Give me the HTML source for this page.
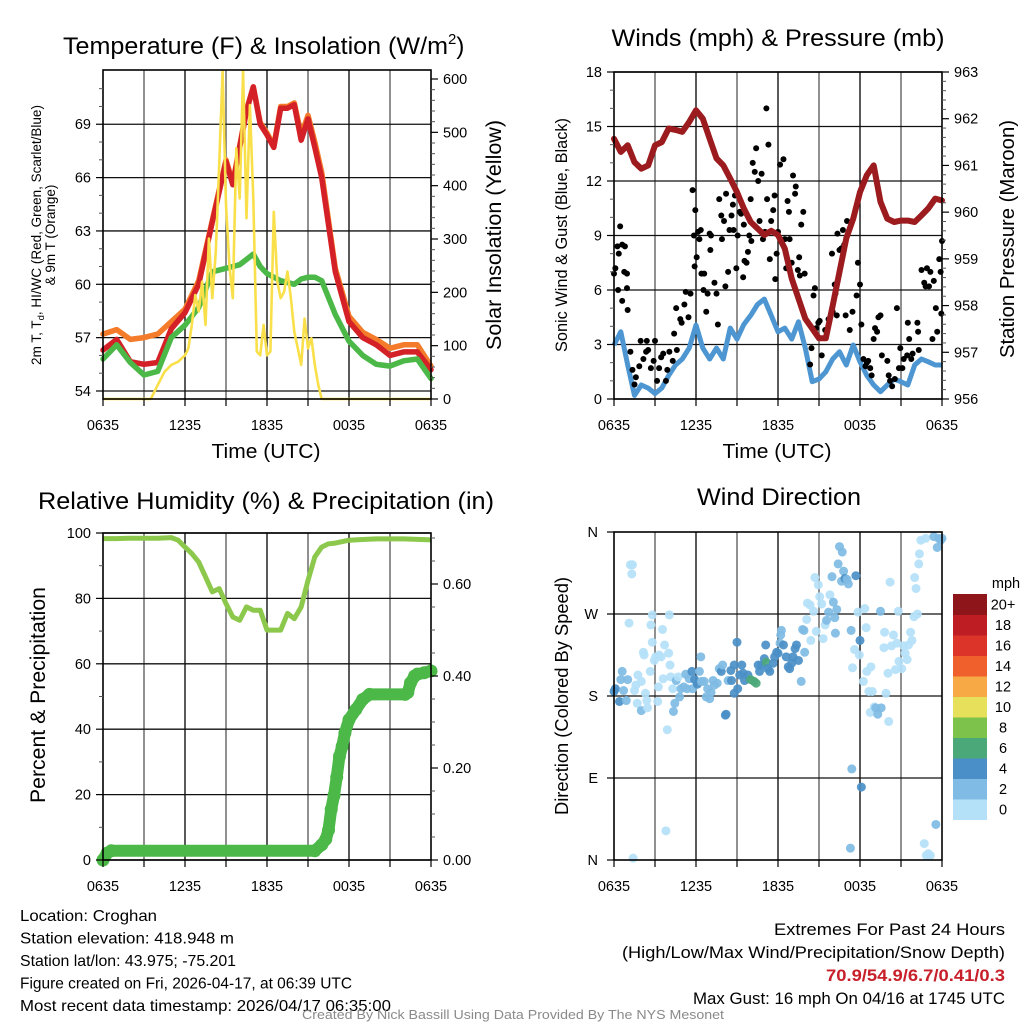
<!DOCTYPE html>
<html><head><meta charset="utf-8"><style>
html,body{margin:0;padding:0;background:#fff;}
svg{display:block;font-family:"Liberation Sans",Arial,sans-serif;}
</style></head><body>
<svg id="c" width="1024" height="1024" viewBox="0 0 1024 1024" xmlns="http://www.w3.org/2000/svg"></svg>
<script>
// ---- Temperature panel data ----
const tempHours=[0,1,2,3,4,5,6,7,8,9,9.5,10,10.5,11,11.5,12,12.5,13,13.5,14,14.5,15,15.5,16,17,18,19,20,21,22,23,24];
const temp2m=[56.3,56.9,55.65,55.5,55.6,57.5,58.4,60.0,63.5,66.9,65.6,67.7,69.75,71.1,69,68.4,67.7,69.9,69.9,70.1,68.1,69.3,67.7,66,60.7,57.9,57,56.6,56,56.2,56.2,55.2];
const temp9m=[57.2,57.45,56.9,57.0,57.2,57.9,58.6,60.2,63.6,67.0,65.7,67.8,69.8,71.1,69.1,68.5,67.8,70.0,70.0,70.2,68.4,69.5,68.0,66.3,60.9,58.2,57.3,56.9,56.4,56.6,56.6,55.4];
const dewpoint=[55.8,56.6,55.6,54.9,55.1,57,57.7,58.7,60.7,60.9,61.0,61.1,61.4,61.7,61.0,60.6,60.4,60.2,60.1,60.0,60.3,60.4,60.4,60.2,58.3,56.8,56,55.5,55.4,55.7,55.8,54.7];
const solarHours=[0,3.5,4,4.5,5,5.5,6,6.25,6.5,6.75,7,7.25,7.5,7.75,8,8.25,8.5,8.75,9,9.25,9.5,9.75,10,10.25,10.5,10.75,11,11.25,11.5,11.75,12,12.25,12.5,12.75,13,13.25,13.5,13.75,14,14.25,14.5,14.75,15,15.25,15.5,15.75,16,24];
const solar=[0,0,26,51,64,70,82,95,139,195,164,220,139,301,189,276,439,614,364,251,189,470,376,614,339,551,376,89,82,139,82,89,351,220,189,201,239,189,126,95,64,151,95,114,64,26,0,0];
const tempTicks=[54,57,60,63,66,69];
const solarTicks=[0,100,200,300,400,500,600];
const timeLabels=["0635","1235","1835","0035","0635"];
// ---- Wind panel data ----
const presHours=[0,0.5,1,1.5,2,2.5,3,3.5,4,4.5,5,5.5,6,6.5,7,7.5,8,8.5,9,9.5,10,10.5,11,11.5,12,12.5,13,13.5,14,14.5,15,15.5,16,16.5,17,17.5,18,18.5,19,19.5,20,20.5,21,21.5,22,22.5,23,23.5,24];
const pressure=[961.57,961.29,961.43,961.07,960.93,961.0,961.43,961.5,961.79,961.76,961.72,961.93,962.18,962.0,961.57,961.15,961.0,960.72,960.43,960.08,959.79,959.65,959.51,959.6,959.51,959.22,958.58,958.15,957.72,957.51,957.3,957.3,958.0,958.72,959.44,959.86,960.43,960.79,961.0,960.22,959.86,959.79,959.82,959.82,959.79,959.93,960.08,960.29,960.25];
const sonicWind=[2.97,3.7,1.87,0.2,0.77,0.6,0.3,0.6,1.3,1.87,2.2,2.8,4.07,2.8,2.2,2.8,2.2,3.9,3.3,4.1,4.6,5.2,5.5,4.6,3.7,3.9,3.3,4.25,2.8,0.95,1.1,1.5,2.2,2.6,1.87,2.97,2.05,1.3,0.77,0.4,0.77,1.1,0.95,0.77,1.87,2.2,2.05,1.87,1.87];
const gustHours=[0,0.1,0.25,0.45,0.6,0.35,0.8,0.75,0.95,0.3,0.6,1.0,0.95,1.2,1.35,1.6,1.5,1.85,1.95,2.15,2.35,2.4,2.5,2.7,2.9,3.0,3.15,3.3,3.45,3.6,3.8,3.9,4.05,4.3,4.4,4.6,4.55,4.85,4.95,5.15,5.25,5.45,5.6,5.75,5.95,5.85,5.9,6.05,6.15,6.25,6.35,6.4,6.6,6.75,6.55,6.85,7.0,7.05,7.1,7.35,7.5,7.6,7.7,7.85,7.9,8.05,8.15,8.2,8.35,8.45,8.6,8.7,8.75,8.85,8.95,9.05,9.2,9.3,9.45,9.5,9.55,9.7,9.8,9.9,10.05,10.0,10.15,10.3,10.4,10.55,10.65,10.8,10.9,11.05,11.15,11.2,11.3,11.4,11.5,11.65,11.75,11.8,11.9,12.0,12.15,12.4,12.5,12.6,12.7,12.8,12.85,13.0,13.1,13.25,13.3,13.45,13.55,13.6,13.7,13.85,13.95,14.35,14.45,14.6,14.7,14.8,14.95,15.05,15.2,15.45,15.7,15.95,16.0,16.15,16.2,16.3,16.35,16.5,16.65,16.75,16.85,16.95,17.05,17.25,17.45,17.75,17.85,18.0,18.1,18.25,18.4,18.5,18.6,18.75,18.85,19.0,19.1,19.25,19.35,19.5,19.6,20.0,20.1,20.2,20.35,20.55,20.7,20.85,20.95,21.1,21.2,21.45,21.5,21.6,21.75,21.85,22.2,22.3,22.25,22.5,22.7,22.8,22.9,23.05,23.15,23.3,23.4,23.55,23.65,23.8,23.9,23.95,24.0];
const gust=[6.9,7.2,8.4,9.5,8.5,8.0,8.4,7.0,6.9,6.0,5.4,4.9,6.1,2.6,1.6,1.2,0.8,1.8,3.2,2.2,2.6,3.2,2.7,1.7,2.1,3.2,1.0,1.7,2.3,2.5,1.0,1.6,2.6,2.1,3.6,2.7,5.0,4.4,4.2,5.2,5.9,4.5,5.8,11.5,10.4,9.0,7.3,7.8,9.2,8.8,9.3,6.9,6.9,4.8,6.0,5.8,9.1,8.2,9.0,6.4,5.8,4.1,11.0,10.1,8.8,9.8,6.2,11.3,7.0,9.3,10.1,10.7,9.3,11.2,7.2,9.0,10.3,10.2,6.7,9.6,7.6,7.5,8.1,9.0,8.7,11.0,13.0,12.5,13.8,12.0,9.8,12.4,8.8,9.2,16.0,11.0,14.0,7.7,9.8,10.4,11.2,6.6,8.0,9.2,12.9,13.2,8.8,7.2,10.9,10.3,8.8,7.5,12.3,11.3,11.7,7.1,7.8,6.8,9.6,10.3,6.9,1.9,2.8,5.7,6.1,3.9,4.2,4.3,2.4,3.8,4.4,8.0,4.8,6.3,5.8,4.6,9.1,8.2,8.3,9.3,8.5,4.6,9.8,3.8,4.8,5.7,7.5,6.3,4.1,2.2,1.8,2.0,2.1,1.7,1.3,3.3,3.9,3.7,4.5,4.6,2.4,2.1,1.3,1.0,0.7,1.1,5.0,1.7,2.8,1.7,2.2,2.4,4.2,3.3,2.2,2.5,4.2,2.7,3.7,7.1,6.4,6.2,7.2,6.2,7.0,3.3,6.5,5.0,3.7,7.7,7.0,4.7,8.7];
const windTicks=[0,3,6,9,12,15,18];
const presTicks=[956,957,958,959,960,961,962,963];
// ---- Humidity panel data ----
const rhHours=[0,1,2,3,4,5,5.5,6,6.5,7,7.5,8,8.5,9,9.5,10,10.5,11,11.5,12,12.5,13,13.5,14,14.5,15,15.5,16,16.5,17,18,19,20,22,24];
const rh=[98.3,98.3,98.4,98.4,98.4,98.6,97.8,95.7,93.7,91.1,86.6,82,83,78.4,74.3,73.3,77.4,76.4,76.4,70.3,70.3,70.3,75.4,73.8,77.4,85.5,92.7,95.7,96.7,96.9,97.8,98,98.2,98.2,97.9];
const precipHours=[0,0.3,0.6,15.5,16,16.3,16.5,16.7,16.9,17.1,17.3,17.5,17.7,18,18.5,19,19.5,22.1,22.3,22.5,22.8,23,23.5,24];
const precip=[0,0.015,0.02,0.02,0.033,0.045,0.065,0.11,0.14,0.18,0.225,0.247,0.276,0.305,0.327,0.349,0.36,0.36,0.364,0.385,0.4,0.404,0.407,0.411];
const rhTicks=[0,20,40,60,80,100];
const precipTicks=["0.00","0.20","0.40","0.60"];
// ---- Wind direction data ----
const dirHours=[0.0,0.1,0.4,0.6,0.5,0.9,0.7,1.0,1.2,1.35,1.3,1.1,1.5,1.6,1.7,1.75,2.0,2.0,2.15,2.2,2.3,2.4,2.45,2.65,2.7,2.8,2.8,2.95,3.05,3.2,3.25,3.3,3.45,3.55,3.6,3.7,3.8,3.9,4.0,4.05,4.1,4.15,4.3,4.35,4.45,4.55,4.7,4.8,4.9,5.1,5.25,5.35,5.5,5.7,5.75,5.9,6.1,6.25,6.35,6.4,6.6,6.75,6.85,7.0,7.1,7.25,7.35,7.55,7.7,7.85,7.95,8.15,8.2,8.35,8.55,8.6,8.8,8.8,9.0,9.05,9.2,9.35,9.45,9.55,9.8,10.0,10.25,10.4,10.55,10.65,10.8,11.0,11.1,11.15,11.25,11.4,11.65,11.75,11.9,12.0,12.15,12.25,12.2,12.4,12.6,12.75,12.85,13.0,13.1,13.25,13.35,13.5,13.7,13.8,13.9,13.95,14.1,14.15,14.35,14.4,14.6,14.7,14.8,14.95,15.05,15.2,15.3,15.45,15.55,15.7,15.8,15.95,16.05,16.15,16.2,16.3,16.4,16.5,16.65,16.7,16.8,16.9,17.05,17.15,17.35,17.45,17.6,17.7,17.85,17.95,18.0,18.1,18.25,18.35,18.45,18.5,18.65,18.75,18.8,18.9,19.05,19.15,19.3,19.5,19.55,19.75,19.8,19.9,20.05,20.1,20.2,20.3,20.45,20.6,20.7,20.8,20.85,21.05,21.2,21.3,21.45,21.55,21.7,21.8,21.95,22.0,22.1,22.2,22.3,22.35,22.45,22.7,22.8,22.85,23.0,23.15,23.4,23.55,23.65,23.75,23.9,24.0,1.4,17.3,17.4];
const dirDeg=[185,188,174,207,198,175,186,198,324,324,314,260,186,192,172,203,164,196,228,225,183,175,167,207,258,269,239,219,223,174,190,225,223,253,199,236,32,143,227,269,214,201,188,163,172,197,201,179,188,190,204,188,199,207,188,198,193,207,223,196,196,179,188,177,184,197,192,194,210,207,214,159,160,197,208,197,183,214,239,188,203,214,205,197,203,198,196,194,214,207,214,221,236,217,210,207,216,223,228,227,238,252,247,236,223,212,210,216,223,232,236,219,196,253,252,228,264,282,280,241,273,310,251,302,289,281,243,258,263,272,291,311,283,266,249,275,325,344,306,338,317,309,308,303,252,211,231,312,272,225,241,80,196,276,255,207,185,162,212,185,168,167,160,273,167,233,250,183,205,152,305,235,247,209,238,273,218,210,235,227,220,236,250,241,267,310,298,270,325,336,351,18,353,5,7,5,355,39,343,353,351,353,2,13,100];
const dirSpeed=[5,5,5,3,3,3,3,3,1,1,1,1,1,1,1,1,3,1,1,1,1,1,1,1,1,1,1,1,1,1,1,1,1,1,1,1,1,1,1,1,1,1,1,3,3,3,1,3,3,3,3,3,3,5,3,5,5,3,3,3,3,3,3,3,3,3,3,3,3,5,3,5,5,3,5,5,5,5,5,5,5,5,5,5,5,7,7,7,5,5,5,5,5,7,5,5,5,5,5,5,3,3,3,5,5,5,5,5,5,5,5,5,3,3,3,3,1,1,1,1,1,1,1,1,1,1,1,1,3,3,1,3,3,3,3,3,3,3,3,3,3,5,3,3,3,1,1,5,1,1,5,5,1,1,1,1,1,1,1,1,1,3,3,3,3,1,1,1,1,1,1,1,1,1,1,1,1,1,1,1,1,1,1,1,1,1,1,1,1,1,1,1,1,1,1,1,3,3,3,3,3,3,1,3,3,3,3,1,1,1];
const dirTicks=["N","E","S","W","N"];
const speedLevels=["0","2","4","6","8","10","12","14","16","18","20+"];
const speedColors=["#b4e1f8","#7fbbe4","#4a8fc7","#4ba878","#7dc24b","#e6e05a","#f6a945","#f0602c","#dc3428","#be1e23","#8e1519"];

const NS="http://www.w3.org/2000/svg";
const svg=document.getElementById('c');
function mk(tag,attrs,parent){const e=document.createElementNS(NS,tag);for(const k in attrs)e.setAttribute(k,attrs[k]);(parent||svg).appendChild(e);return e;}
function txt(s,x,y,size,anchor,parent,extra){const t=mk('text',Object.assign({x:x,y:y,'font-size':size,'text-anchor':anchor||'middle',fill:'#000'},extra||{}),parent);t.textContent=s;return t;}
function fit(t,len){t.setAttribute('textLength',len);t.setAttribute('lengthAdjust','spacingAndGlyphs');return t;}
function scale(d0,d1,r0,r1){return v=>r0+(v-d0)/(d1-d0)*(r1-r0);}
function pathOf(xs,ys,fx,fy){return xs.map((h,i)=>(i?'L':'M')+fx(h).toFixed(1)+','+fy(ys[i]).toFixed(1)).join('');}

function frame(g,x0,y0,x1,y1,hGrid,fy){
  for(let k=1;k<8;k++){const x=x0+k*(x1-x0)/8;const l=mk('line',{x1:x,y1:y0,x2:x,y2:y1,stroke:k%2?'#555':'#000','stroke-width':1.3},g);}
  hGrid.forEach(v=>{const y=fy(v);const l=mk('line',{x1:x0,y1:y,x2:x1,y2:y,stroke:'#111','stroke-width':1.3},g);});
}
function border(g,x0,y0,x1,y1){const r=mk('rect',{x:x0,y:y0,width:x1-x0,height:y1-y0,fill:'none',stroke:'#000','stroke-width':1.6},g);}
function xAxis(g,x0,x1,y1,ly){
  for(let k=0;k<=8;k++){const x=x0+k*(x1-x0)/8;mk('line',{x1:x,y1:y1,x2:x,y2:y1+7,stroke:'#000','stroke-width':1.2},g);}
  timeLabels.forEach((s,i)=>{const t=txt(s,x0+i*(x1-x0)/4,ly,14.5,'middle',g);});
}
function leftTicks(g,x0,vals,fy,minor,fmt){
  vals.forEach(v=>{const y=fy(v);mk('line',{x1:x0-7,y1:y,x2:x0,y2:y,stroke:'#000','stroke-width':1.2},g);const t=txt(fmt?fmt(v):String(v),x0-12,y+5,14.5,'end',g);});
  minor.forEach(v=>{const y=fy(v);mk('line',{x1:x0-4,y1:y,x2:x0,y2:y,stroke:'#555','stroke-width':1},g);});
}
function rightTicks(g,x1,vals,labels,fy,minor){
  vals.forEach((v,i)=>{const y=fy(v);mk('line',{x1:x1,y1:y,x2:x1+7,y2:y,stroke:'#000','stroke-width':1.2},g);const t=txt(labels[i],x1+12,y+5,14.5,'start',g);});
  minor.forEach(v=>{const y=fy(v);mk('line',{x1:x1,y1:y,x2:x1+4,y2:y,stroke:'#555','stroke-width':1},g);});
}
function range(a,b,s){const r=[];for(let v=a;v<=b+1e-9;v+=s)r.push(+v.toFixed(4));return r;}

// ===== Panel 1 =====
(function(){
  const g=mk('g',{});
  const x0=103,x1=431,y0=70,y1=399;
  const fx=scale(0,24,x0,x1), fy=scale(53.55,72.05,y1,y0), fs=scale(0,600,y1,79);
  frame(g,x0,y0,x1,y1,tempTicks,fy);
  const series=[[temp9m,'#f47b2a','temp-9m-line'],[temp2m,'#d42027','temp-2m-line'],[dewpoint,'#4bb848','dewpoint-line']];
  series.forEach(s=>{const p=mk('path',{d:pathOf(tempHours,s[0],fx,fy),fill:'none',stroke:s[1],'stroke-width':5.5,'stroke-linejoin':'round','stroke-linecap':'round'},g);});
  const sp=mk('path',{d:pathOf(solarHours,solar,fx,v=>Math.max(y0,fs(v))),fill:'none',stroke:'#f9e04b','stroke-width':2.6,'stroke-linejoin':'round'},g);
  
  border(g,x0,y0,x1,y1);
  xAxis(g,x0,x1,y1,430);
  leftTicks(g,x0,tempTicks,fy,range(55,72,1).filter(v=>v%3),null);
  rightTicks(g,x1,solarTicks,solarTicks.map(String),fs,range(20,600,20).filter(v=>v%100));
  const t=mk('text',{x:63,y:54,'font-size':24,'text-anchor':'start'},g);
  t.innerHTML='<tspan textLength="385" lengthAdjust="spacingAndGlyphs">Temperature (F) &amp; Insolation (W/m</tspan><tspan font-size="15" dy="-10">2</tspan><tspan dy="10">)</tspan>';
  const xt=fit(txt('Time (UTC)',266,458,20.5,'middle',g),109);
  const l1=mk('text',{x:0,y:0,'font-size':13.5,'text-anchor':'middle',transform:'translate(41,235) rotate(-90)'},g);
  l1.innerHTML='2m T, T<tspan font-size="9.5" dy="3">d</tspan><tspan dy="-3">, HI/WC (Red, Green, Scarlet/Blue)</tspan>';
  
  const l2=txt('& 9m T (Orange)',0,0,13.5,'middle',g,{transform:'translate(55,235) rotate(-90)'});
  const r=fit(txt('Solar Insolation (Yellow)',0,0,21,'middle',g,{transform:'translate(501,235) rotate(-90)'}),230);
})();

// ===== Panel 2 =====
(function(){
  const g=mk('g',{});
  const x0=614,x1=942,y0=72,y1=399;
  const fx=scale(0,24,x0,x1), fy=scale(0,18,y1,y0), fp=scale(956,963,y1,y0);
  frame(g,x0,y0,x1,y1,windTicks,fy);
  const bl=mk('path',{d:pathOf(presHours,sonicWind,fx,fy),fill:'none',stroke:'#4d96d1','stroke-width':5,'stroke-linejoin':'round'},g);
  
  gustHours.forEach((h,i)=>{const c=mk('circle',{cx:fx(h),cy:fy(gust[i]),r:3,fill:'#000'},g);
    
    });
  const pl=mk('path',{d:pathOf(presHours,pressure,fx,fp),fill:'none',stroke:'#9b1b1e','stroke-width':6,'stroke-linejoin':'round','stroke-linecap':'round'},g);
  
  border(g,x0,y0,x1,y1);
  xAxis(g,x0,x1,y1,430);
  leftTicks(g,x0,windTicks,fy,range(1,18,1).filter(v=>v%3),null);
  rightTicks(g,x1,presTicks,presTicks.map(String),fp,range(956.2,963,0.2).filter(v=>Math.abs(v-Math.round(v))>0.01));
  const t=fit(txt('Winds (mph) & Pressure (mb)',778,46,24,'middle',g),333);
  const xt=fit(txt('Time (UTC)',777,458,20.5,'middle',g),109);
  const l=fit(txt('Sonic Wind & Gust (Blue, Black)',0,0,16.5,'middle',g,{transform:'translate(567,235) rotate(-90)'}),234);
  const r=fit(txt('Station Pressure (Maroon)',0,0,20,'middle',g,{transform:'translate(1014,239) rotate(-90)'}),238);
})();

// ===== Panel 3 =====
(function(){
  const g=mk('g',{});
  const x0=103,x1=431,y0=533,y1=860;
  const fx=scale(0,24,x0,x1), fy=scale(0,100,y1,y0), fq=scale(0,0.2,y1,768);
  frame(g,x0,y0,x1,y1,rhTicks,fy);
  const rl=mk('path',{d:pathOf(rhHours,rh,fx,fy),fill:'none',stroke:'#8cc84b','stroke-width':5,'stroke-linejoin':'round'},g);
  
  const pl=mk('path',{d:pathOf(precipHours,precip,fx,fq),fill:'none',stroke:'#4cb848','stroke-width':12,'stroke-linejoin':'round','stroke-linecap':'round'},g);
  
  precipHours.forEach((h,i)=>{const c=mk('circle',{cx:fx(h),cy:fq(precip[i]),r:6.5,fill:'#4cb848'},g);
    
    });
  border(g,x0,y0,x1,y1);
  xAxis(g,x0,x1,y1,891);
  leftTicks(g,x0,rhTicks,fy,range(10,90,20),null);
  rightTicks(g,x1,precipTicks.map(Number),precipTicks,fq,range(0.05,0.7,0.05).filter(v=>Math.abs(v*5-Math.round(v*5))>0.01));
  const t=fit(txt('Relative Humidity (%) & Precipitation (in)',266,509,24,'middle',g),456);
  const l=fit(txt('Percent & Precipitation',0,0,21.5,'middle',g,{transform:'translate(45,695) rotate(-90)'}),216);
})();

// ===== Panel 4 =====
(function(){
  const g=mk('g',{});
  const x0=614,x1=942,y0=532,y1=860;
  const fx=scale(0,24,x0,x1), fy=scale(0,360,y1,y0);
  frame(g,x0,y0,x1,y1,[90,180,270],fy);
  function colorOf(s){let i=Math.floor(s/2);if(i>10)i=10;return speedColors[i];}
  dirHours.forEach((h,i)=>{const c=mk('circle',{cx:fx(h),cy:fy(dirDeg[i]),r:4.5,fill:colorOf(dirSpeed[i]),'fill-opacity':0.92},g);
    
    });
  border(g,x0,y0,x1,y1);
  xAxis(g,x0,x1,y1,891);
  dirTicks.forEach((s,i)=>{const y=fy(i*90);mk('line',{x1:x0-7,y1:y,x2:x0,y2:y,stroke:'#000','stroke-width':1.2},g);const t=txt(s,x0-16,y+5,14.5,'end',g);});
  const t=fit(txt('Wind Direction',779,505,24,'middle',g),164);
  const l=fit(txt('Direction (Colored By Speed)',0,0,18,'middle',g,{transform:'translate(568,696) rotate(-90)'}),238);
  const cb=mk('g',{},g);
  const bh=20.5, by0=594;
  speedLevels.forEach((s,i)=>{const k=speedLevels.length-1-i;const y=by0+k*bh;
    const r=mk('rect',{x:953,y:y,width:34,height:bh+0.5,fill:speedColors[i]},cb);
    
    
    const tl=txt(s,1003,y+bh/2+5,14.5,'middle',cb);
    
    });
  const u=txt('mph',1006,588,14.5,'middle',cb);
})();

// ===== Footer text =====
(function(){
  const g=mk('g',{});
  const lines=["Location: Croghan","Station elevation: 418.948 m","Station lat/lon: 43.975; -75.201","Figure created on Fri, 2026-04-17, at 06:39 UTC","Most recent data timestamp: 2026/04/17 06:35:00"];
  const lens=[137,214,216,332,371];
  lines.forEach((s,i)=>{const t=fit(txt(s,20,921+i*22.5,16,'start',g),lens[i]);});
  const g2=mk('g',{});
  const a=fit(txt('Extremes For Past 24 Hours',1005,935,16.5,'end',g2),231);
  const b=fit(txt('(High/Low/Max Wind/Precipitation/Snow Depth)',1005,958,16.5,'end',g2),383);
  const c=fit(txt('70.9/54.9/6.7/0.41/0.3',1005,981,16.5,'end',g2,{fill:'#c8202a','font-weight':'bold'}),179);
  const d=fit(txt('Max Gust: 16 mph On 04/16 at 1745 UTC',1005,1004,16.5,'end',g2),312);
  const f=fit(txt('Created By Nick Bassill Using Data Provided By The NYS Mesonet',513,1019,13,'middle',svg,{fill:'#8a8a8a'}),422);
})();
</script>
</body></html>
